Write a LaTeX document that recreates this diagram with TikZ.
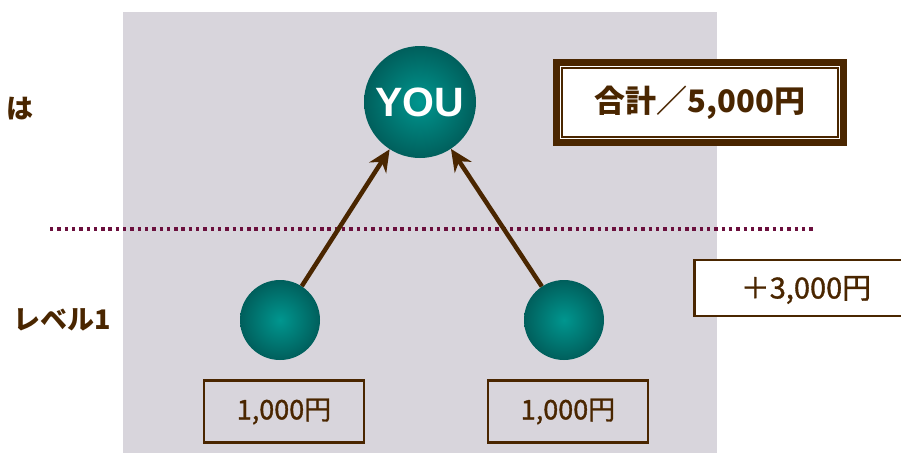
\documentclass[tikz,border=0pt]{standalone}
\usepackage{fontspec}
\newfontfamily\jp{Noto Sans CJK JP}
\newfontfamily\jpm[FakeBold=1.2]{Noto Sans CJK JP}
\newfontfamily\jpb[FakeBold=1.5]{Noto Sans CJK JP Bold}
\newfontfamily\latinb{Liberation Sans}
\usetikzlibrary{arrows.meta,calc}
\definecolor{bgg}{HTML}{D8D5DC}
\definecolor{brn}{HTML}{4A2600}
\definecolor{tealc}{HTML}{00968F}
\definecolor{teald}{HTML}{005F5C}
\definecolor{mar}{HTML}{6B0F3D}
\tikzset{
  ball/.style={circle, inner sep=0pt, minimum size=#1, inner color=tealc, outer color=teald},
  valbox/.style={draw=brn, line width=2.5pt, minimum width=160pt, minimum height=62pt, text=brn, font=\jpm\fontsize{27}{30}\selectfont},
  lbl/.style={text=brn, font=\jp\bfseries\fontsize{27}{30}\selectfont},
  arr/.style={draw=brn, line width=4.5pt, -{Stealth[length=22pt,width=20pt]}}
}
\begin{document}
\begin{tikzpicture}[x=1pt,y=-1pt]
\useasboundingbox (0,0) rectangle (901,453);
\fill[bgg] (123,12) rectangle (717,453);
\draw[mar, line width=3.4pt, dash pattern=on 3.4pt off 3.9pt] (50,229) -- (815,229);
\node[ball=112pt] (you) at (420,102) {};
\node[text=white, font=\latinb\bfseries\fontsize{41}{44}\selectfont] (yout) at (420,102) {YOU};
\node[ball=80pt] (l) at (280,320) {};
\node[ball=80pt] (r) at (564,320) {};
\draw[arr] (l) -- (you);
\draw[arr] (r) -- (you);
\node[valbox] (lb) at (284,411.5) {1,000円};
\node[valbox] (rb) at (568,411.5) {1,000円};
\node[draw=brn, line width=2.5pt, fill=white, minimum width=212pt, minimum height=56pt, anchor=west, text=brn] (pb) at (693,288) {};
\node[text=brn, font=\jpm\fontsize{29}{32}\selectfont] (pt) at (806,290) {＋3,000円};
\node[draw=brn, line width=7pt, fill=white, minimum width=287pt, minimum height=80pt] (tb) at (700,102.5) {};
\draw[brn, line width=1.5pt] ($(tb.north west)+(9,9)$) rectangle ($(tb.south east)+(-9,-9)$);
\node[text=brn, font=\jp\bfseries\fontsize{31}{34}\selectfont] (tt) at (700,103) {合計／5,000円};
\node[lbl, anchor=west] (ha) at (3,109) {は};
\node[lbl, anchor=west] (lv) at (10,320) {レベル1};
\end{tikzpicture}
\end{document}
